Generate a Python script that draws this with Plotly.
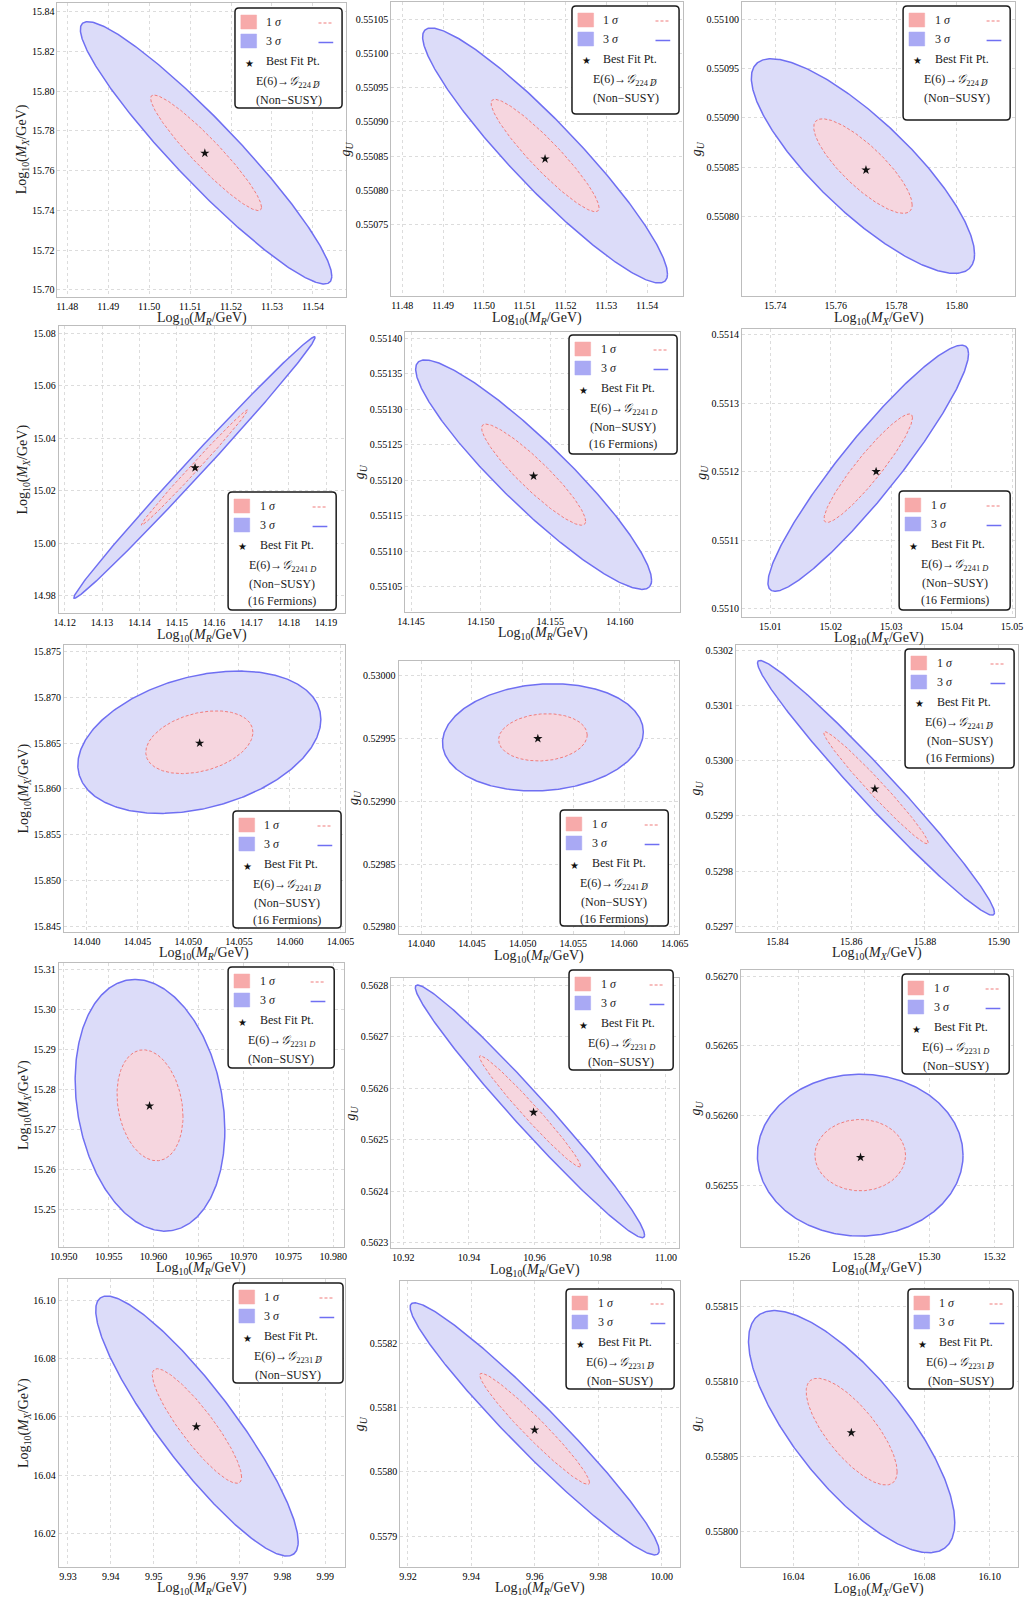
import numpy as np
import plotly.graph_objects as go

W, H = 1029, 1600

# ---------------- data (row-major: 5 models x 3 parameter pairs) ----------------
# Ellipse centres and Gaussian widths (1 sd) with correlation
center_x = [11.5139, 11.5150, 15.7690,
            14.15475, 14.15381, 15.0262,
            14.0511, 14.0520, 15.8667,
            10.9596, 10.9586, 15.2788,
            9.96007, 9.95995, 16.0578]
center_y = [15.7690, 0.550851, 0.550851,
            15.0289, 0.551208, 0.551205,
            15.8651, 0.529951, 0.529951,
            15.2760, 0.562555, 0.5625716,
            16.0568, 0.558067, 0.5580667]
sigma_x = [0.008926, 0.008722, 0.010728,
           0.009405, 0.002466, 0.004826,
           0.003480, 0.002878, 0.009347,
           0.002422, 0.010147, 0.009173,
           0.006859, 0.011409, 0.009158]
sigma_y = [0.019189, 0.0000541, 0.0000317,
           0.014479, 0.00004698, 0.00005233,
           0.002262, 0.00001241, 0.00006716,
           0.009147, 0.00007123, 0.00001686,
           0.012958, 0.00005698, 0.00002346]
rho = [-0.94, -0.93, -0.82,
       0.995, -0.92, 0.93,
       0.32, 0.10, -0.98,
       -0.20, -0.98, 0.0,
       -0.89, -0.965, -0.75]

# Best fit points
best_x = [11.5136, 11.5150, 15.7700,
          14.1549, 14.15381, 15.0275,
          14.05113, 14.0515, 15.8664,
          10.95955, 10.9597, 15.2789,
          9.95993, 9.95995, 16.0577]
best_y = [15.7688, 0.550846, 0.550847,
          15.0288, 0.551206, 0.551200,
          15.8650, 0.529950, 0.529949,
          15.27583, 0.562553, 0.562570,
          16.05657, 0.5580652, 0.558066]

# Axis ranges
x_range = [[11.4776, 11.548], [11.4773, 11.5488], [15.729, 15.8193],
           [14.1184, 14.195], [14.14458, 14.16436], [15.0053, 15.0505],
           [14.03777, 14.06542], [14.03777, 14.06542], [15.82872, 15.90517],
           [10.94945, 10.9812], [10.91635, 11.004], [15.24221, 15.32563],
           [9.92787, 9.99451], [9.91762, 10.00588], [16.024, 16.10852]]
y_range = [[15.6966, 15.8445], [0.550646, 0.551075], [0.550719, 0.5510177],
           [14.9734, 15.0828], [0.551015, 0.5514093], [0.550988, 0.551409],
           [15.84439, 15.87573], [0.5297944, 0.5300122], [0.529690, 0.530210],
           [15.24065, 15.3115], [0.56229, 0.5628136], [0.562506, 0.5627043],
           [16.00857, 16.1071], [0.5578527, 0.5582973], [0.5579763, 0.5581673]]

# Tick labels
x_tick_labels = [
    ["11.48", "11.49", "11.50", "11.51", "11.52", "11.53", "11.54"],
    ["11.48", "11.49", "11.50", "11.51", "11.52", "11.53", "11.54"],
    ["15.74", "15.76", "15.78", "15.80", "15.82"],
    ["14.12", "14.13", "14.14", "14.15", "14.16", "14.17", "14.18", "14.19"],
    ["14.145", "14.150", "14.155", "14.160"],
    ["15.01", "15.02", "15.03", "15.04", "15.05"],
    ["14.040", "14.045", "14.050", "14.055", "14.060", "14.065"],
    ["14.040", "14.045", "14.050", "14.055", "14.060", "14.065"],
    ["15.84", "15.86", "15.88", "15.90"],
    ["10.950", "10.955", "10.960", "10.965", "10.970", "10.975", "10.980"],
    ["10.92", "10.94", "10.96", "10.98", "11.00"],
    ["15.26", "15.28", "15.30", "15.32"],
    ["9.93", "9.94", "9.95", "9.96", "9.97", "9.98", "9.99"],
    ["9.92", "9.94", "9.96", "9.98", "10.00"],
    ["16.04", "16.06", "16.08", "16.10"],
]
y_tick_labels = [
    ["15.70", "15.72", "15.74", "15.76", "15.78", "15.80", "15.82", "15.84"],
    ["0.55075", "0.55080", "0.55085", "0.55090", "0.55095", "0.55100", "0.55105"],
    ["0.55080", "0.55085", "0.55090", "0.55095", "0.55100"],
    ["14.98", "15.00", "15.02", "15.04", "15.06", "15.08"],
    ["0.55105", "0.55110", "0.55115", "0.55120", "0.55125", "0.55130", "0.55135", "0.55140"],
    ["0.5510", "0.5511", "0.5512", "0.5513", "0.5514"],
    ["15.845", "15.850", "15.855", "15.860", "15.865", "15.870", "15.875"],
    ["0.52980", "0.52985", "0.52990", "0.52995", "0.53000"],
    ["0.5297", "0.5298", "0.5299", "0.5300", "0.5301", "0.5302"],
    ["15.25", "15.26", "15.27", "15.28", "15.29", "15.30", "15.31"],
    ["0.5623", "0.5624", "0.5625", "0.5626", "0.5627", "0.5628"],
    ["0.56255", "0.56260", "0.56265", "0.56270"],
    ["16.02", "16.04", "16.06", "16.08", "16.10"],
    ["0.5579", "0.5580", "0.5581", "0.5582"],
    ["0.55800", "0.55805", "0.55810", "0.55815"],
]

# Axis titles per column
MR = "Log<sub>10</sub>(<i>M<sub>R</sub></i>/GeV)"
MX = "Log<sub>10</sub>(<i>M<sub>X</sub></i>/GeV)"
GU = "<i>g<sub>U</sub></i>"
col_x_title = [MR, MR, MX]
col_y_title = [MX, GU, GU]

# Symmetry-breaking chain for each row
DSLASH = "<span style=\"font-family:'DejaVu Serif'\"><i>D\u0338</i></span>"
model_sub = ["224 " + DSLASH, "2241 <i>D</i>", "2241 " + DSLASH,
             "2231 <i>D</i>", "2231 " + DSLASH]
sixteen_fermions = [False, True, True, False, False]

# Chi-square levels for 2 parameters: 1 sigma and 3 sigma
dchi2_1s, dchi2_3s = 2.30, 11.83

# ---------------- layout geometry (pixels) ----------------
frames = [
    (49.3, 2.7, 342.7, 296.7), (389, 2, 686, 296), (746, 2, 1024, 296),
    (50.7, 326, 341.7, 613.3), (403.3, 331.7, 683.3, 611.7), (746, 328.7, 1024, 616.6),
    (56, 645, 341.7, 931.7), (396.5, 660.5, 682, 934), (740, 645, 1026.7, 931.7),
    (50.7, 963.3, 341, 1246.7), (389, 978, 682, 1248), (745, 970, 1021.7, 1246.7),
    (50.7, 1279.3, 341.7, 1566.7), (398.3, 1280.7, 683.3, 1566.7), (745, 1280.7, 1026.7, 1567.3),
]
legend_boxes = [
    (230, 8, 339, 108), (573, 6, 682, 114), (910, 6, 1019, 120),
    (223, 492, 333, 610), (570, 335, 680, 454), (906, 491, 1019, 610),
    (228, 811, 338, 928), (561, 810, 671, 926), (912, 649, 1023, 768),
    (223, 967, 331, 1068), (570, 970, 676, 1070), (909, 974, 1018, 1074),
    (228, 1283, 340, 1383), (567, 1289, 677, 1389), (915, 1289, 1022, 1389),
]

FONT = "Liberation Serif"
BLUE_EDGE = "#6F6FF2"
BLUE_FILL = "#DCDCF9"
RED_EDGE = "#F07C7C"
RED_FILL = "#F6D6DF"
SQ_RED = "#F7AAAA"
SQ_BLUE = "#A9A9F4"


def px(x):
    return x / W


def py(y):
    return 1 - y / H


def ellipse(i, k, n=400):
    t = np.linspace(0, 2 * np.pi, n)
    r = np.sqrt(k)
    ex = center_x[i] + r * sigma_x[i] * np.cos(t)
    ey = center_y[i] + r * sigma_y[i] * (rho[i] * np.cos(t) + np.sqrt(1 - rho[i] ** 2) * np.sin(t))
    return ex, ey


def label_width(s, size=10):
    return sum(0.25 if c == "." else 0.5 for c in s) * size


fig = go.Figure()
shapes = []
annotations = []
layout_axes = {}

for i in range(15):
    row, col = divmod(i, 3)
    suf = "" if i == 0 else str(i + 1)
    xa, ya = "x" + suf, "y" + suf
    l, t, r, b = frames[i]

    ex3, ey3 = ellipse(i, dchi2_3s)
    ex1, ey1 = ellipse(i, dchi2_1s)
    fig.add_trace(go.Scatter(x=ex3, y=ey3, mode="lines", fill="toself", fillcolor=BLUE_FILL,
                             line=dict(color=BLUE_EDGE, width=1.5), xaxis=xa, yaxis=ya,
                             showlegend=False, hoverinfo="skip"))
    fig.add_trace(go.Scatter(x=ex1, y=ey1, mode="lines", fill="toself", fillcolor=RED_FILL,
                             line=dict(color=RED_EDGE, width=1, dash="3px,2px"), xaxis=xa, yaxis=ya,
                             showlegend=False, hoverinfo="skip"))
    fig.add_trace(go.Scatter(x=[best_x[i]], y=[best_y[i]], mode="markers",
                             marker=dict(symbol="star", size=7, color="#111111"),
                             xaxis=xa, yaxis=ya, showlegend=False, hoverinfo="skip"))

    common = dict(showline=True, mirror=True, linecolor="#BDBDBD", linewidth=1,
                  showgrid=True, gridcolor="#DCDCDC", griddash="dot", gridwidth=1,
                  zeroline=False, ticks="", tickfont=dict(family=FONT, size=10, color="#000000"))
    layout_axes["xaxis" + suf] = dict(domain=[px(l), px(r)], range=x_range[i], anchor=ya,
                                      tickvals=[float(v) for v in x_tick_labels[i]],
                                      ticktext=x_tick_labels[i], **common)
    layout_axes["yaxis" + suf] = dict(domain=[py(b), py(t)], range=y_range[i], anchor=xa,
                                      tickvals=[float(v) for v in y_tick_labels[i]],
                                      ticktext=y_tick_labels[i], **common)

    # axis titles
    annotations.append(dict(x=px((l + r) / 2), y=py(b + 22), xref="paper", yref="paper",
                            text=col_x_title[col], showarrow=False, xanchor="center", yanchor="middle",
                            font=dict(family=FONT, size=14, color="#222222")))
    lw = max(label_width(s) for s in y_tick_labels[i])
    annotations.append(dict(x=px(l - lw - 13), y=py((t + b) / 2), xref="paper", yref="paper",
                            text=col_y_title[col], showarrow=False, textangle=-90,
                            xanchor="center", yanchor="middle",
                            font=dict(family=FONT, size=14, color="#222222")))

    # legend box
    bl, bt, br, bb = legend_boxes[i]
    rad = 4
    path = (f"M {px(bl + rad)},{py(bt)} L {px(br - rad)},{py(bt)} "
            f"Q {px(br)},{py(bt)} {px(br)},{py(bt + rad)} L {px(br)},{py(bb - rad)} "
            f"Q {px(br)},{py(bb)} {px(br - rad)},{py(bb)} L {px(bl + rad)},{py(bb)} "
            f"Q {px(bl)},{py(bb)} {px(bl)},{py(bb - rad)} L {px(bl)},{py(bt + rad)} "
            f"Q {px(bl)},{py(bt)} {px(bl + rad)},{py(bt)} Z")
    shapes.append(dict(type="path", path=path, xref="paper", yref="paper",
                       line=dict(color="#1A1A1A", width=1.5), fillcolor="white", layer="above"))
    # swatches
    for cy_off, fc in ((14, SQ_RED), (33, SQ_BLUE)):
        shapes.append(dict(type="rect", xref="paper", yref="paper",
                           x0=px(bl + 6), x1=px(bl + 22), y0=py(bt + cy_off - 7), y1=py(bt + cy_off + 7),
                           line=dict(color=fc, width=0.5), fillcolor=fc, layer="above"))
    shapes.append(dict(type="line", xref="paper", yref="paper",
                       x0=px(br - 24), x1=px(br - 9), y0=py(bt + 15), y1=py(bt + 15),
                       line=dict(color=RED_EDGE, width=1.2, dash="3px,2px"), layer="above"))
    shapes.append(dict(type="line", xref="paper", yref="paper",
                       x0=px(br - 24), x1=px(br - 9), y0=py(bt + 34.5), y1=py(bt + 34.5),
                       line=dict(color=BLUE_EDGE, width=1.5), layer="above"))

    lf = dict(family=FONT, size=12, color="#1A1A1A")
    annotations.append(dict(x=px(bl + 30), y=py(bt + 14), xref="paper", yref="paper",
                            text="1 <i>σ</i>", showarrow=False, xanchor="left", yanchor="middle", font=lf))
    annotations.append(dict(x=px(bl + 30), y=py(bt + 33), xref="paper", yref="paper",
                            text="3 <i>σ</i>", showarrow=False, xanchor="left", yanchor="middle", font=lf))
    annotations.append(dict(x=px(bl + 15), y=py(bt + 55), xref="paper", yref="paper",
                            text="★", showarrow=False, xanchor="center", yanchor="middle",
                            font=dict(family="DejaVu Sans", size=10, color="#111111")))
    annotations.append(dict(x=px(bl + 30), y=py(bt + 53), xref="paper", yref="paper",
                            text="Best Fit Pt.", showarrow=False, xanchor="left", yanchor="middle", font=lf))
    cxl = (bl + br) / 2
    annotations.append(dict(x=px(cxl), y=py(bt + 74), xref="paper", yref="paper",
                            text="E(6)→<i>\U0001D4A2</i><sub>" + model_sub[row] + "</sub>",
                            showarrow=False, xanchor="center", yanchor="middle", font=lf))
    annotations.append(dict(x=px(cxl), y=py(bt + 92), xref="paper", yref="paper",
                            text="(Non−SUSY)", showarrow=False, xanchor="center", yanchor="middle", font=lf))
    if sixteen_fermions[row]:
        annotations.append(dict(x=px(cxl), y=py(bt + 109), xref="paper", yref="paper",
                                text="(16 Fermions)", showarrow=False, xanchor="center",
                                yanchor="middle", font=lf))

fig.update_layout(width=W, height=H, autosize=False, margin=dict(l=0, r=0, t=0, b=0, pad=0),
                  paper_bgcolor="white", plot_bgcolor="white",
                  shapes=shapes, annotations=annotations, **layout_axes)

fig.write_html("out.html")
